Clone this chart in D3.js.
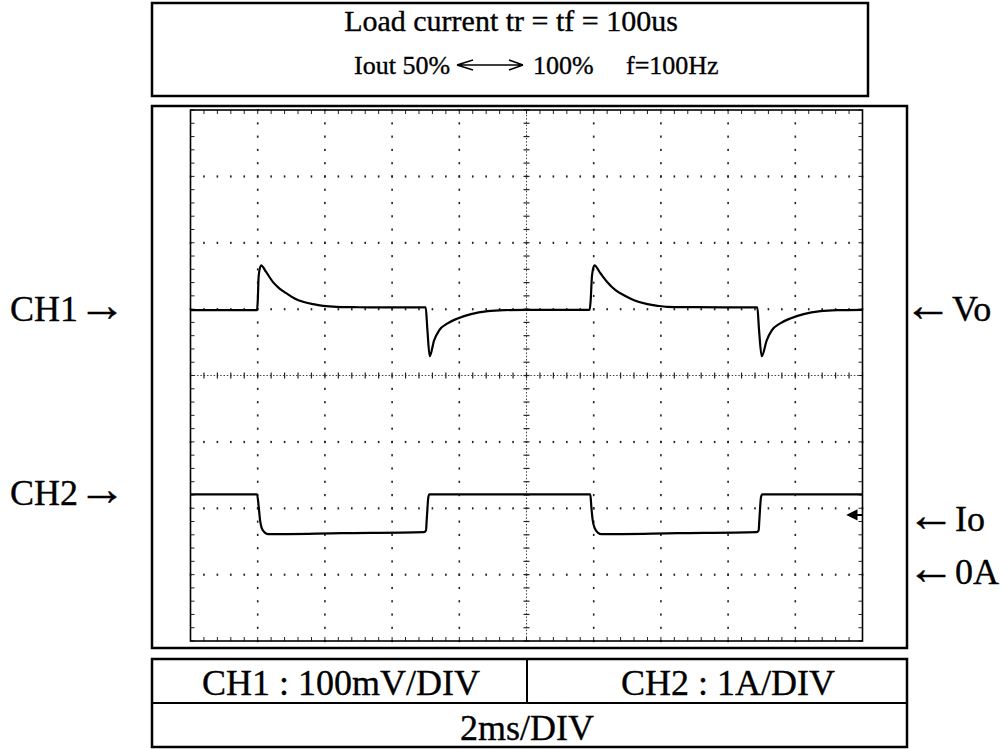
<!DOCTYPE html>
<html><head><meta charset="utf-8">
<script src="https://cdn.jsdelivr.net/npm/d3@7"></script>
<style>
body{margin:0;background:#fff}
text{font-family:"Liberation Serif","Times New Roman",serif;fill:#000;stroke:#000;stroke-width:0.35px}
</style>
</head><body>
<svg id="c" width="1007" height="749"></svg>
<script>
// ---- data ----
const titleLine1 = "Load current tr = tf = 100us";
const titleLine2 = ["Iout 50%", "100%", "f=100Hz"];
const bottomLabels = ["CH1 : 100mV/DIV", "CH2 : 1A/DIV", "2ms/DIV"];
const leftLabels = ["CH1→", "CH2→"];
const rightLabels = ["←Vo", "←Io", "←0A"];

// CH1 : output voltage (mV relative to CH1 marker), time in ms (2 ms/div)
const ch1Time = [0, 1.98, 2.0, 2.03, 2.1, 2.25, 2.45, 2.65, 2.85, 3.1, 3.35, 3.65, 3.95, 4.35, 4.85, 5.5, 7.0,
  7.05, 7.12, 7.25, 7.4, 7.65, 7.95, 8.35, 8.85, 9.35, 10.0, 11.88,
  11.91, 11.95, 12.02, 12.2, 12.4, 12.64, 12.9, 13.2, 13.6, 13.9, 14.18, 15.0, 16.87,
  16.92, 17.0, 17.15, 17.3, 17.55, 17.85, 18.25, 18.75, 19.25, 20.0];
const ch1mV = [-1.5, -1.5, 10.5, 51, 66, 56, 41, 31, 24, 16, 11, 7.5, 5, 3.5, 3, 2.5, 2.5,
  -31, -71, -47, -32, -21.5, -14, -7.5, -3, -1.5, -1, -1,
  13.5, 51, 66, 54, 41, 29, 21, 13.5, 7.5, 5, 3.5, 3, 2.5,
  -31, -71, -47, -32, -21.5, -14, -7.5, -3, -1.5, -1];

// CH2 : load current (A), 1 A/div
const ch2Time = [0, 1.98, 2.03, 2.07, 2.12, 2.22, 2.32, 4.5, 6.95, 7.01, 7.03, 7.08, 7.11,
  11.9, 11.93, 11.97, 12.03, 12.13, 12.23, 14.5, 16.85, 16.91, 16.93, 16.98, 17.02, 20.0];
const ch2A = [1.21, 1.21, 1.02, 0.82, 0.70, 0.63, 0.61, 0.625, 0.64, 0.67, 0.82, 1.17, 1.21,
  1.21, 1.02, 0.82, 0.70, 0.63, 0.61, 0.625, 0.64, 0.67, 0.82, 1.17, 1.21, 1.21];

const ch1Offset = 5;   // divisions from bottom
const ch2Offset = 1;
const mVperDiv = 100, AperDiv = 1;

// ---- drawing ----
const svg = d3.select("#c");
const x = d3.scaleLinear().domain([0, 20]).range([190.5, 862.5]);
const yd = d3.scaleLinear().domain([0, 8]).range([641, 110]);

// frames
svg.append("rect").attr("x",152).attr("y",3).attr("width",716).attr("height",93)
  .attr("fill","none").attr("stroke","#000").attr("stroke-width",2.5);
svg.append("rect").attr("x",152).attr("y",106).attr("width",755).attr("height",542)
  .attr("fill","none").attr("stroke","#000").attr("stroke-width",2.5);
svg.append("rect").attr("x",152).attr("y",659).attr("width",755).attr("height",88)
  .attr("fill","none").attr("stroke","#000").attr("stroke-width",2.5);
svg.append("line").attr("x1",152).attr("x2",907).attr("y1",703).attr("y2",703)
  .attr("stroke","#000").attr("stroke-width",2);
svg.append("line").attr("x1",527).attr("x2",527).attr("y1",659).attr("y2",703)
  .attr("stroke","#000").attr("stroke-width",2);

// grid
const g = svg.append("g");
const minorX = d3.range(0, 20.001, 0.4);
const minorY = d3.range(0, 8.001, 0.2);
const majorXs = d3.range(2, 19, 2).filter(d => d !== 10);
const majorYs = d3.range(1, 8).filter(d => d !== 4);
majorXs.forEach(t => {
  g.selectAll(null).data(minorY).join("rect")
    .attr("x", x(t) - 0.8).attr("y", d => yd(d) - 1).attr("width", 1.6).attr("height", 2.2)
    .attr("fill", "#222");
});
majorYs.forEach(v => {
  g.selectAll(null).data(minorX).join("rect")
    .attr("x", d => x(d) - 0.8).attr("y", yd(v) - 1).attr("width", 1.6).attr("height", 2.2)
    .attr("fill", "#222");
});
// center axes
g.append("line").attr("x1", x(10)).attr("x2", x(10)).attr("y1", yd(0)).attr("y2", yd(8))
  .attr("stroke", "#444").attr("stroke-width", 1).attr("stroke-dasharray", "1.5,1.8");
g.append("line").attr("x1", x(0)).attr("x2", x(20)).attr("y1", yd(4)).attr("y2", yd(4))
  .attr("stroke", "#444").attr("stroke-width", 1).attr("stroke-dasharray", "1.5,1.8");
g.selectAll(null).data(minorY).join("line")
  .attr("x1", x(10) - 3).attr("x2", x(10) + 3).attr("y1", d => yd(d)).attr("y2", d => yd(d))
  .attr("stroke", "#222").attr("stroke-width", 1.2);
g.selectAll(null).data(minorX).join("line")
  .attr("y1", yd(4) - 3).attr("y2", yd(4) + 3).attr("x1", d => x(d)).attr("x2", d => x(d))
  .attr("stroke", "#222").attr("stroke-width", 1.2);
// border ticks
g.selectAll(null).data(minorX).join("line")
  .attr("x1", d => x(d)).attr("x2", d => x(d)).attr("y1", yd(8)).attr("y2", yd(8) + 4)
  .attr("stroke", "#222").attr("stroke-width", 1);
g.selectAll(null).data(minorX).join("line")
  .attr("x1", d => x(d)).attr("x2", d => x(d)).attr("y1", yd(0)).attr("y2", yd(0) - 4)
  .attr("stroke", "#222").attr("stroke-width", 1);
g.selectAll(null).data(minorY).join("line")
  .attr("x1", x(0)).attr("x2", x(0) + 4).attr("y1", d => yd(d)).attr("y2", d => yd(d))
  .attr("stroke", "#222").attr("stroke-width", 1);
g.selectAll(null).data(minorY).join("line")
  .attr("x1", x(20)).attr("x2", x(20) - 4).attr("y1", d => yd(d)).attr("y2", d => yd(d))
  .attr("stroke", "#222").attr("stroke-width", 1);
// plot border
g.append("rect").attr("x", x(0)).attr("y", yd(8)).attr("width", x(20) - x(0)).attr("height", yd(0) - yd(8))
  .attr("fill", "none").attr("stroke", "#000").attr("stroke-width", 1.6);

// traces
const line1 = d3.line().x((d, i) => x(ch1Time[i])).y(d => yd(ch1Offset + d / mVperDiv)).curve(d3.curveMonotoneX);
svg.append("path").attr("d", line1(ch1mV)).attr("fill", "none").attr("stroke", "#000").attr("stroke-width", 2.2);
const line2 = d3.line().x((d, i) => x(ch2Time[i])).y(d => yd(ch2Offset + d / AperDiv)).curve(d3.curveMonotoneX);
svg.append("path").attr("d", line2(ch2A)).attr("fill", "none").attr("stroke", "#000").attr("stroke-width", 2.2);

// small CH2 marker arrow at right edge
const my = yd(ch2Offset + 0.9);
svg.append("path").attr("d", `M${x(20) - 14},${my} L${x(20) - 6},${my - 4} L${x(20) - 6},${my + 4} Z M${x(20) - 7},${my} L${x(20)},${my}`)
  .attr("fill", "#000").attr("stroke", "#000").attr("stroke-width", 2);

// titles
svg.append("text").attr("x", 511).attr("y", 31).attr("text-anchor", "middle").attr("font-size", 30).text(titleLine1);
svg.append("text").attr("x", 354).attr("y", 74).attr("font-size", 26).text(titleLine2[0]);
svg.append("text").attr("x", 533).attr("y", 74).attr("font-size", 26).text(titleLine2[1]);
svg.append("text").attr("x", 626).attr("y", 74).attr("font-size", 26).text(titleLine2[2]);
svg.append("path").attr("d", "M457,65 L523,65 M457,65 L473,60 M457,65 L473,70 M523,65 L509,60 M523,65 L509,70")
  .attr("fill", "none").attr("stroke", "#000").attr("stroke-width", 1.4);

// bottom labels
svg.append("text").attr("x", 341).attr("y", 695).attr("text-anchor", "middle").attr("font-size", 36).text(bottomLabels[0]);
svg.append("text").attr("x", 728).attr("y", 695).attr("text-anchor", "middle").attr("font-size", 36).text(bottomLabels[1]);
svg.append("text").attr("x", 527).attr("y", 740).attr("text-anchor", "middle").attr("font-size", 36).text(bottomLabels[2]);

// side labels: one text each; the arrow is a larger tspan so it spans ~34px
const FS = 36, AFS = 48;
const cv = document.createElement("canvas").getContext("2d");
function metrics(ch, size) {
  cv.font = `${size}px "Liberation Serif"`;
  const m = cv.measureText(ch);
  return { inkL: -m.actualBoundingBoxLeft, inkR: m.actualBoundingBoxRight, adv: m.width };
}
function sideLabel(str, xStart, baseline, arrowFirst) {
  const arrow = arrowFirst ? str[0] : str[str.length - 1];
  const word = arrowFirst ? str.slice(1) : str.slice(0, -1);
  const am = metrics(arrow, AFS);
  const t = svg.append("text").attr("y", baseline).attr("font-size", FS);
  if (arrowFirst) {
    t.attr("x", xStart - am.inkL);
    t.append("tspan").attr("font-size", AFS).text(arrow);
    t.append("tspan").text(word);
  } else {
    t.attr("x", xStart);
    t.append("tspan").text(word);
    t.append("tspan").attr("font-size", AFS).text(arrow);
  }
}
sideLabel(leftLabels[0], 10, 321, false);
sideLabel(leftLabels[1], 10, 505, false);
sideLabel(rightLabels[0], 913, 321, true);
sideLabel(rightLabels[1], 916, 531, true);
sideLabel(rightLabels[2], 916, 584, true);
</script>
</body></html>
